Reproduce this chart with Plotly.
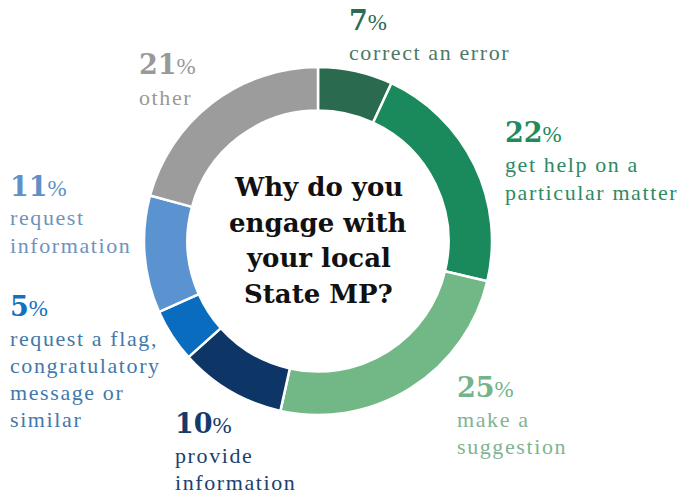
import plotly.graph_objects as go

# Survey breakdown, clockwise from 12 o'clock
categories = [
    "correct an error",
    "get help on a particular matter",
    "make a suggestion",
    "provide information",
    "request a flag, congratulatory message or similar",
    "request information",
    "other",
]
values = [7, 22, 25, 10, 5, 11, 21]
slice_colors = ["#2a6a4f", "#1a8a5c", "#72b886", "#0d3566", "#0a6cbf", "#5a93cf", "#9c9c9c"]
number_colors = ["#2e6a52", "#218a5e", "#74b48a", "#153a6a", "#1570bf", "#5f90c6", "#999999"]
text_colors = ["#4b7a67", "#2e8a63", "#7fb393", "#20406e", "#4279aa", "#6e93bd", "#9a9a9a"]
label_lines = [
    ["correct an error"],
    ["get help on a", "particular matter"],
    ["make a", "suggestion"],
    ["provide", "information"],
    ["request a flag,", "congratulatory", "message or", "similar"],
    ["request", "information"],
    ["other"],
]
center_title = ["Why do you", "engage with", "your local", "State MP?"]

W, H = 681, 495
FONT_BOLD = "DejaVu Serif"
FONT_TEXT = "Liberation Serif"

# ring geometry (pixels)
cx, cy, r = 318, 241, 174

# label anchor: (left x, centre y of the percentage line), pixels
label_pos = [(347, 20), (503, 133), (455, 387), (173, 423), (8, 306), (8, 186), (137, 65)]
line_gap = 27

fig = go.Figure(
    go.Pie(
        labels=categories,
        values=values,
        sort=False,
        direction="clockwise",
        rotation=0,
        hole=0.75,
        marker=dict(colors=slice_colors, line=dict(color="white", width=2.5)),
        textinfo="none",
        hoverinfo="label+percent",
        domain=dict(x=[(cx - r) / W, (cx + r) / W], y=[1 - (cy + r) / H, 1 - (cy - r) / H]),
        showlegend=False,
    )
)

ann = []
for i, v in enumerate(values):
    x0, y0 = label_pos[i]
    ann.append(dict(
        x=x0 / W, y=1 - y0 / H, xref="paper", yref="paper",
        xanchor="left", yanchor="middle", showarrow=False,
        text=f"<b>{v}</b><span style='font-family:{FONT_TEXT};font-size:23px'>%</span>",
        font=dict(family=FONT_BOLD, size=27, color=number_colors[i]),
    ))
    for j, line in enumerate(label_lines[i]):
        ann.append(dict(
            x=x0 / W, y=1 - (y0 + 32 + j * line_gap) / H, xref="paper", yref="paper",
            xanchor="left", yanchor="middle", showarrow=False,
            text=f"<span style='letter-spacing:1.6px'>{line}</span>",
            font=dict(family=FONT_TEXT, size=22, color=text_colors[i]),
        ))

for j, line in enumerate(center_title):
    ann.append(dict(
        x=cx / W, y=1 - (187 + j * 35.5) / H, xref="paper", yref="paper",
        xanchor="center", yanchor="middle", showarrow=False,
        text=f"<b>{line}</b>",
        font=dict(family=FONT_BOLD, size=26, color="#111111"),
    ))

fig.update_layout(
    width=W, height=H,
    margin=dict(l=0, r=0, t=0, b=0),
    paper_bgcolor="white", plot_bgcolor="white",
    annotations=ann,
)

fig.write_html("out.html")
